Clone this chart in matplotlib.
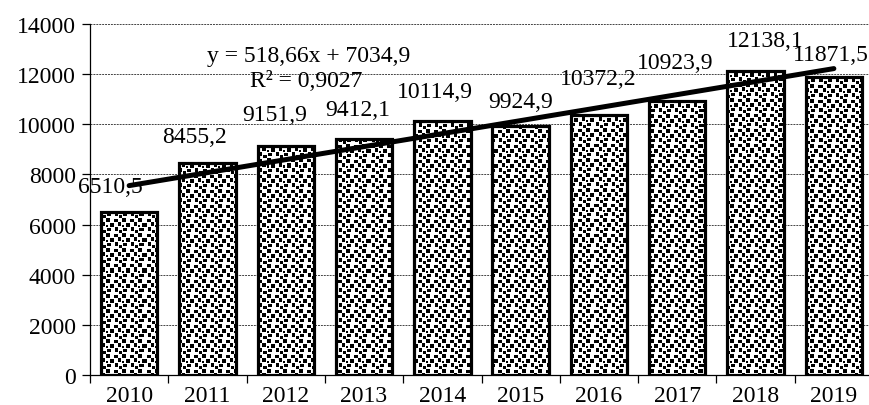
import numpy as np
import matplotlib
matplotlib.use("Agg")
import matplotlib.pyplot as plt

years = ["2010", "2011", "2012", "2013", "2014", "2015", "2016", "2017", "2018", "2019"]
values = [6510.5, 8455.2, 9151.9, 9412.1, 10114.9, 9924.9, 10372.2, 10923.9, 12138.1, 11871.5]
labels = ["6510,5", "8455,2", "9151,9", "9412,1", "10114,9", "9924,9", "10372,2", "10923,9", "12138,1", "11871,5"]
trend_slope = 518.66
trend_intercept = 7034.9
eq_text = "y = 518,66x + 7034,9"
r2_text = "R² = 0,9027"

# label offsets in pixels (dx, dy) from bar top centre -- style only
label_offsets = [(-19, 25), (-13, 27), (-11, 31), (-6, 30), (-7, 30), (0, 25),
                 (-1, 36), (-2, 39), (10, 30), (-3, 23)]

plt.rcParams['font.family'] = ['Liberation Serif', 'DejaVu Serif']
FS = 17
fig = plt.figure(figsize=(8.7, 4.06), dpi=100)
W, H = 870, 406
ax = fig.add_axes([90 / W, (H - 376) / H, 783 / W, 351 / H])
ax.set_xlim(-0.5, 9.5)
ax.set_ylim(0, 14000)

x = np.arange(len(years))
ax.yaxis.grid(True, linestyle=(0, (2, 1)), color='#444444', linewidth=0.7, zorder=0)
ax.set_axisbelow(True)

bars = ax.bar(x, values, width=0.72, color='white', edgecolor='none', zorder=2)

# texture tile (irregular squares pattern)
tile = np.zeros((15, 16))
squares = [(0, 0, 4, 4), (1, 8, 3, 4), (5, 4, 4, 4), (4, 12, 4, 3),
           (10, 1, 3, 4), (9, 9, 4, 3), (12, 13, 3, 3), (7, 0, 2, 2)]
for (r, c, h, w) in squares:
    tile[r:r + h, c:c + w] = 1
ny, nx = 351, 783
tex = np.tile(tile, (ny // 15 + 1, nx // 16 + 1))[:ny, :nx]
rgba = np.ones((ny, nx, 4))
rgba[..., :3] = 0.0
rgba[..., 3] = tex
for b in bars:
    im = ax.imshow(rgba, extent=(-0.5, 9.5, 0, 14000), aspect='auto',
                   interpolation='nearest', zorder=3, origin='upper')
    im.set_clip_path(b)
ax.bar(x, values, width=0.72, facecolor='none', edgecolor='black', linewidth=2.3, zorder=4)
ax.set_xlim(-0.5, 9.5)
ax.set_ylim(0, 14000)

# trend line
tx = np.array([x[0], x[-1]])
ty = trend_slope * (tx + 1) + trend_intercept
ax.plot(tx, ty, color='black', linewidth=3.6, solid_capstyle='round', zorder=5)

for i, (v, lab) in enumerate(zip(values, labels)):
    dx, dy = label_offsets[i]
    ax.annotate(lab, (x[i], v), xytext=(dx * 0.72, dy * 0.72), textcoords='offset points',
                ha='center', va='center', fontsize=FS, zorder=6)

ax.text(2.29, 12536, eq_text, ha='center', va='baseline', fontsize=FS, zorder=6)
ax.text(2.265, 11539, r2_text, ha='center', va='baseline', fontsize=FS, zorder=6)

ax.spines['top'].set_visible(False)
ax.spines['right'].set_visible(False)
ax.spines['left'].set_linewidth(0.9)
ax.spines['bottom'].set_linewidth(0.9)

ax.set_yticks(np.arange(0, 14001, 2000))
ax.set_yticklabels([str(v) for v in range(0, 14001, 2000)], fontsize=FS)
ax.tick_params(axis='y', length=6, width=0.9, pad=4)
ax.set_xticks(x)
ax.set_xticklabels(years, fontsize=FS)
ax.set_xticks(np.arange(-0.5, 10, 1), minor=True)
ax.tick_params(axis='x', which='major', length=0, pad=7)
ax.tick_params(axis='x', which='minor', length=6, width=0.9)

fig.savefig("out.png", dpi=100)
